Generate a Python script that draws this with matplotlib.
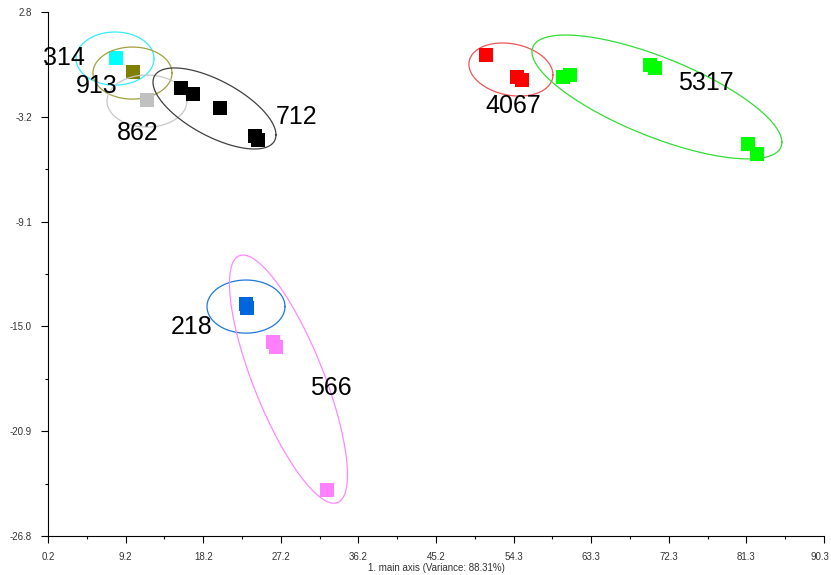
import matplotlib.pyplot as plt
import matplotlib.transforms as mtransforms
import numpy as np

plt.rcParams['font.family'] = ['Liberation Sans', 'DejaVu Sans']

# Data: sample scores on the first two main axes
groups = ['314', '913', '862', '712', '4067', '5317', '218', '566']
xs = [
    [8.1],
    [10.1],
    [11.7],
    [15.6, 17.0, 20.2, 24.2, 24.6],
    [51.05, 54.65, 55.2],
    [60.0, 60.8, 70.1, 70.7, 81.5, 82.5],
    [23.2, 23.3],
    [26.3, 26.7, 32.6],
]
ys = [
    [0.20],
    [-0.59],
    [-2.17],
    [-1.49, -1.83, -2.62, -4.21, -4.43],
    [0.37, -0.87, -1.04],
    [-0.87, -0.76, -0.19, -0.36, -4.66, -5.22],
    [-13.70, -13.92],
    [-15.85, -16.13, -24.21],
]
# confidence ellipses: centre, half extents, correlation
ell_cx = [7.98, 10.01, 11.69, 19.53, 53.95, 70.9, 23.19, 28.12]
ell_cy = [0.17, -0.65, -2.23, -2.65, -0.45, -2.0, -13.84, -17.94]
ell_rx = [4.53, 4.59, 4.64, 7.14, 4.88, 14.51, 4.53, 6.85]
ell_ry = [1.50, 1.47, 1.47, 2.29, 1.50, 3.50, 1.50, 7.01]
ell_rho = [0.0, 0.0, 0.0, -0.65, -0.2, -0.73, 0.0, -0.77]
# label positions
lab_x = [2.06, 5.89, 10.65, 29.11, 54.19, 76.59, 16.92, 33.06]
lab_y = [0.20, -1.38, -4.04, -3.13, -2.51, -1.21, -15.0, -18.44]

marker_colors = ['#00ffff', '#808000', '#c0c0c0', '#000000',
                 '#ff0000', '#00ff00', '#0066dd', '#ff80ff']
ellipse_colors = ['#33eeff', '#a0a040', '#c8c8c8', '#404040',
                  '#ee5555', '#33dd33', '#1e78d8', '#ff88ff']

x_ticks = np.linspace(0.2, 90.3, 11)
x_labels = ['0.2', '9.2', '18.2', '27.2', '36.2', '45.2',
            '54.3', '63.3', '72.3', '81.3', '90.3']
y_ticks = np.linspace(2.8, -26.8, 6)
y_labels = ['2.8', '-3.2', '-9.1', '-15.0', '-20.9', '-26.8']

fig = plt.figure(figsize=(8.31, 5.75), dpi=100)
ax = fig.add_axes([48 / 831, 39 / 575, 776 / 831, 524 / 575])

t = np.linspace(0, 2 * np.pi, 300)
for i, g in enumerate(groups):
    ex = ell_cx[i] + ell_rx[i] * np.cos(t)
    ey = ell_cy[i] + ell_ry[i] * (ell_rho[i] * np.cos(t)
                                  + np.sqrt(1 - ell_rho[i] ** 2) * np.sin(t))
    ax.plot(ex, ey, color=ellipse_colors[i], lw=0.9)
    ax.plot(xs[i], ys[i], 's', color=marker_colors[i], ms=9.5, mew=0)
    ax.text(lab_x[i], lab_y[i], g, fontsize=18, ha='center', va='center')

ax.set_xlim(0.2, 90.3)
ax.set_ylim(-26.8, 2.8)
ax.set_xticks(x_ticks)
ax.set_xticklabels(x_labels)
ax.set_yticks(y_ticks)
ax.set_yticklabels(y_labels)
ax.set_xticks((x_ticks[:-1] + x_ticks[1:]) / 2, minor=True)
ax.set_yticks((y_ticks[:-1] + y_ticks[1:]) / 2, minor=True)
ax.tick_params(which='major', length=5, width=0.8, labelsize=7,
               labelcolor='#333333', pad=6.5)
ax.tick_params(which='minor', length=2.5, width=0.8)
for s in ['top', 'right']:
    ax.spines[s].set_visible(False)
ax.set_xlabel('1. main axis (Variance: 88.31%)', fontsize=7,
              color='#333333', labelpad=1)

# keep the last tick label inside the figure
last = ax.get_xticklabels()[-1]
last.set_transform(last.get_transform() +
                   mtransforms.ScaledTranslation(-0.04, 0, fig.dpi_scale_trans))

plt.savefig('out.png', dpi=100)
